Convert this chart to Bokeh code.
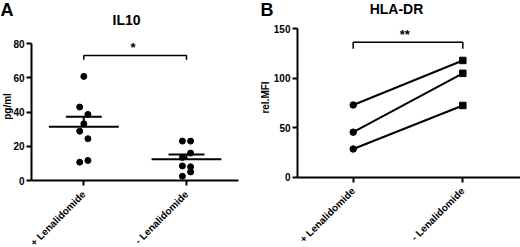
import math
import numpy as np
from bokeh.plotting import figure
from bokeh.layouts import row
from bokeh.models import Range1d, FixedTicker, Label
from bokeh.embed import file_html
from bokeh.resources import INLINE

# ---- data ----
categories = ["+ Lenalidomide", "- Lenalidomide"]
il10_plus = [60.8, 42.9, 38.6, 33.1, 28.8, 24.4, 10.7, 11.7]
il10_minus = [23.0, 23.0, 16.0, 13.5, 8.5, 8.0, 5.0, 2.5]
jitter_plus = [0, -1, 1, 0, -1, 1, -1, 1]
jitter_minus = [-1, 1, 1, -1, -1, 1, 1, -1]
hla_plus = [73.0, 45.5, 28.5]
hla_minus = [118.0, 105.0, 72.5]
il10_ticks = [0, 20, 40, 60, 80]
hla_ticks = [0, 50, 100, 150]

FONT = "Liberation Sans"
W, H = 260, 247
overrides = {1: categories[0], 2: categories[1]}


class Geo:
    """Pixel geometry of a panel: the whole canvas is the frame, axes sit at fixed locations."""
    def __init__(self, ax_left, cat1_px, cat2_px, ymax, ymax_px, y0_px):
        self.kx = (cat2_px - cat1_px)            # px per category unit
        self.x0 = 1 - cat1_px / self.kx          # data x at pixel 0
        self.ky = (y0_px - ymax_px) / ymax       # px per y unit
        self.y_top = y0_px / self.ky             # data y at pixel 0 (top)
        self.y_bot = -(H - y0_px) / self.ky      # data y at bottom
        self.axis_x = self.px(ax_left)
        self.ymax = ymax

    def px(self, x):
        return self.x0 + x / self.kx

    def py(self, y):
        return self.y_top - y / self.ky


def make_fig(g, yticks, xmax_data):
    p = figure(width=W, height=H, output_backend="svg", toolbar_location=None, title=None,
               x_range=Range1d(g.x0, g.px(W)), y_range=Range1d(g.y_bot, g.y_top),
               min_border=0)
    p.xgrid.visible = False
    p.ygrid.visible = False
    p.outline_line_color = None
    for ax in (p.xaxis, p.yaxis):
        ax.axis_line_width = 2
        ax.axis_line_color = "black"
        ax.major_tick_line_width = 2
        ax.major_tick_line_color = "black"
        ax.major_tick_out = 5
        ax.major_tick_in = 0
        ax.minor_tick_line_color = None
        ax.major_label_text_font = FONT
        ax.major_label_text_font_style = "bold"
        ax.major_label_text_font_size = "10px"
        ax.major_label_text_color = "black"
    p.xaxis.ticker = FixedTicker(ticks=[1, 2])
    p.xaxis.major_label_overrides = overrides
    p.xaxis.major_label_orientation = math.pi / 4
    p.xaxis.major_label_standoff = 7
    p.xaxis.fixed_location = 0
    p.xaxis.bounds = (g.axis_x, xmax_data)
    p.yaxis.ticker = FixedTicker(ticks=yticks)
    p.yaxis.major_label_standoff = 2
    p.yaxis.fixed_location = g.axis_x
    p.yaxis.bounds = (0, g.ymax)
    return p


def lab(p, x, y, text, size, align="center", angle=0.0):
    p.add_layout(Label(x=x, y=y, text=text, angle=angle,
                       text_font=FONT, text_font_style="bold",
                       text_font_size=size, text_align=align, text_baseline="middle",
                       text_color="black"))


# ---- Panel A ----
ga = Geo(ax_left=31, cat1_px=83.3, cat2_px=186, ymax=80, ymax_px=43, y0_px=180)
pa = make_fig(ga, il10_ticks, ga.px(238))

spread = 0.04
for i, (vals, jit) in enumerate([(il10_plus, jitter_plus), (il10_minus, jitter_minus)]):
    cx = i + 1
    xs = [cx + j * spread for j in jit]
    pa.scatter(xs, vals, size=6, marker="circle", color="black")
    arr = np.array(vals)
    m = arr.mean()
    sem = arr.std(ddof=1) / math.sqrt(len(arr))
    pa.segment(x0=[cx - 0.34], y0=[m], x1=[cx + 0.34], y1=[m], line_color="black", line_width=2)
    pa.segment(x0=[cx - 0.175], y0=[m + sem], x1=[cx + 0.175], y1=[m + sem], line_color="black", line_width=2)
    pa.segment(x0=[cx], y0=[m], x1=[cx], y1=[m + sem], line_color="black", line_width=2)

pa.line([1, 1, 2, 2], [70.5, 73, 73, 70.5], line_color="black", line_width=1.5)
lab(pa, 1.48, 77.5, "*", "13px")
lab(pa, ga.px(126), ga.py(19), "IL10", "14px")
lab(pa, ga.px(0), ga.py(9), "A", "18px", align="left")
lab(pa, ga.px(7), ga.py(106), "pg/ml", "10px", angle=math.pi / 2)

# ---- Panel B ----
gb = Geo(ax_left=297 - 260, cat1_px=352.7 - 260, cat2_px=462.3 - 260, ymax=150, ymax_px=28.3, y0_px=176.7)
pb = make_fig(gb, hla_ticks, gb.px(W))

for a, b in zip(hla_plus, hla_minus):
    pb.line([1, 2], [a, b], line_color="black", line_width=2)
pb.scatter([1] * len(hla_plus), hla_plus, size=6.5, marker="circle", color="black")
pb.scatter([2] * len(hla_minus), hla_minus, size=6.5, marker="square", color="black")

pb.line([1, 1, 2, 2], [129.8, 136.5, 136.5, 129.8], line_color="black", line_width=1.5)
lab(pb, 1.47, 144, "**", "13px")
lab(pb, gb.px(136), gb.py(8), "HLA-DR", "14px")
lab(pb, gb.px(0), gb.py(9), "B", "18px", align="left")
lab(pb, gb.px(5), gb.py(97), "rel.MFI", "10px", angle=math.pi / 2)

layout = row(pa, pb, spacing=0)
open("out.html", "w").write(file_html(layout, INLINE))
